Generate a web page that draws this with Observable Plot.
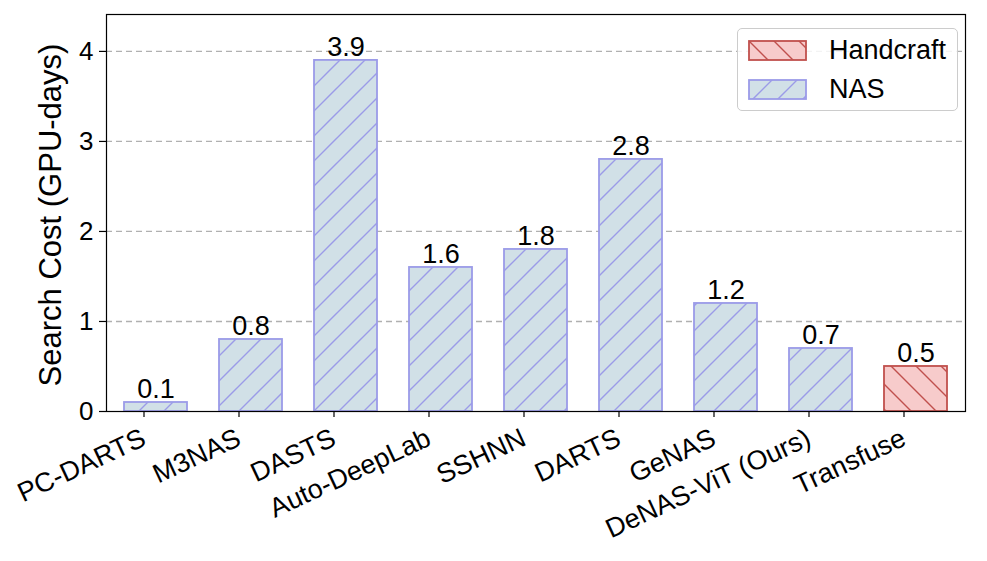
<!DOCTYPE html>
<html>
<head>
<meta charset="utf-8">
<script src="https://cdn.jsdelivr.net/npm/d3@7"></script>
<script src="https://cdn.jsdelivr.net/npm/@observablehq/plot@0.6"></script>
<style>
  html, body { margin: 0; padding: 0; background: #fff; }
  #wrap { position: relative; width: 987px; height: 561px; font-family: "Liberation Sans", Arial, Helvetica, sans-serif; }
  #legend { position: absolute; left: 737px; top: 28px; width: 221px; height: 83px; box-sizing: border-box;
            border: 1px solid #cccccc; border-radius: 5px; background: rgba(255,255,255,0.85); }
  .entry { position: absolute; left: 10px; height: 21px; display: flex; align-items: center; }
  .entry svg { display: block; }
  .entry span { margin-left: 21px; font-size: 27px; color: #000; line-height: 21px; }
</style>
</head>
<body>
<div id="wrap"><div id="chart"></div><div id="legend"></div></div>
<script>
// ---- data ----
const methods = ["PC-DARTS", "M3NAS", "DASTS", "Auto-DeepLab", "SSHNN", "DARTS", "GeNAS", "DeNAS-ViT (Ours)", "Transfuse"];
const costs = [0.1, 0.8, 3.9, 1.6, 1.8, 2.8, 1.2, 0.7, 0.5];
const kinds = ["NAS", "NAS", "NAS", "NAS", "NAS", "NAS", "NAS", "NAS", "Handcraft"];
const legendKinds = ["Handcraft", "NAS"];
const yTicks = [0, 1, 2, 3, 4];
const gridTicks = [1, 2, 3, 4];
const yLabel = "Search Cost (GPU-days)";

const style = {
  NAS: { fill: "#d1e0e7", stroke: "#9b9be8", id: "hatchNAS", dir: "/" },
  Handcraft: { fill: "#f7cbcb", stroke: "#c0504d", id: "hatchHand", dir: "\\" }
};

const rows = methods.map((m, i) => ({ method: m, cost: costs[i], kind: kinds[i] }));

const barMark = k => Plot.barY(rows, {
  filter: d => d.kind === k,
  x: "method", y: "cost",
  fill: `url(#${style[k].id})`,
  stroke: style[k].stroke, strokeWidth: 1.8
});

const svg = Plot.plot({
  width: 987, height: 561,
  marginLeft: 106, marginRight: 22, marginTop: 14, marginBottom: 150,
  style: { fontFamily: '"Liberation Sans", Arial, Helvetica, sans-serif', color: "#000", background: "#fff" },
  x: { domain: methods, paddingInner: 0.34, paddingOuter: 0.17, label: null },
  y: { domain: [0, 4.41], label: null },
  marks: [
    Plot.gridY(gridTicks, { stroke: "#b0b0b0", strokeOpacity: 1, strokeWidth: 1.3, strokeDasharray: "6,4" }),
    barMark("NAS"),
    barMark("Handcraft"),
    Plot.text(rows, { x: "method", y: "cost", text: d => d.cost.toFixed(1), dy: -4, lineAnchor: "bottom", fontSize: 27, fill: "#000" }),
    Plot.frame({ stroke: "#000", strokeWidth: 1.2 }),
    Plot.axisY(yTicks, { tickSize: 7, tickPadding: 6, tickFormat: d => String(d), fontSize: 26, label: null, stroke: "#000", strokeWidth: 1.2 }),
    Plot.axisX({ tickSize: 6, tickPadding: 19, tickRotate: -25, fontSize: 27, label: null, dx: -12, stroke: "#000", strokeWidth: 1.2 }),
    Plot.text([yLabel], { frameAnchor: "left", rotate: -90, dx: -55, dy: 2, text: d => d, fontSize: 31, textAnchor: "middle", lineAnchor: "middle", fill: "#000" })
  ]
});

// hatch patterns
const S = 25;
function addPattern(defs, k) {
  const s = style[k];
  const p = defs.append("pattern").attr("id", s.id).attr("patternUnits", "userSpaceOnUse")
    .attr("width", S).attr("height", S);
  p.append("rect").attr("width", S).attr("height", S).attr("fill", s.fill);
  const d = s.dir === "/"
    ? `M-2,2 L2,-2 M0,${S} L${S},0 M${S - 2},${S + 2} L${S + 2},${S - 2}`
    : `M-2,${S - 2} L2,${S + 2} M0,0 L${S},${S} M${S - 2},-2 L${S + 2},2`;
  p.append("path").attr("d", d).attr("stroke", s.stroke).attr("stroke-width", 1.4).attr("fill", "none");
}
const defs = d3.select(svg).insert("defs", ":first-child");
addPattern(defs, "NAS");
addPattern(defs, "Handcraft");

document.getElementById("chart").appendChild(svg);

// legend
const legend = d3.select("#legend");
legendKinds.forEach((k, i) => {
  const e = legend.append("div").attr("class", "entry").style("top", (11 + i * 39) + "px");
  const sw = e.append("svg").attr("width", 60).attr("height", 21);
  sw.append("rect").attr("x", 1).attr("y", 1).attr("width", 57).attr("height", 19)
    .attr("fill", `url(#${style[k].id})`).attr("stroke", style[k].stroke).attr("stroke-width", 1.8);
  e.append("span").text(k);
});
</script>
</body>
</html>
